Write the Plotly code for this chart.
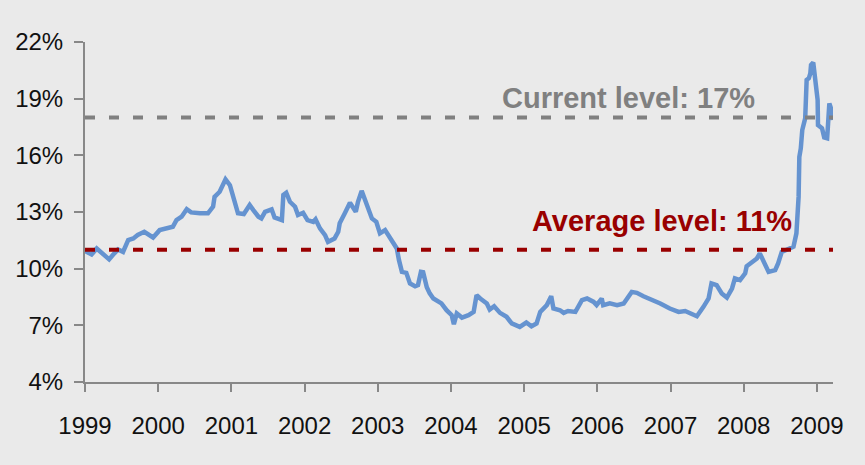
import plotly.graph_objects as go

# decimal years
years = [1999.00, 1999.09, 1999.16, 1999.25, 1999.33, 1999.38, 1999.45, 1999.52, 1999.59, 1999.66,
         1999.72, 1999.81, 1999.86, 1999.93, 2000.02, 2000.11, 2000.20, 2000.25, 2000.32, 2000.39,
         2000.45, 2000.57, 2000.68, 2000.75, 2000.77, 2000.84, 2000.92, 2000.98, 2001.03, 2001.09,
         2001.17, 2001.25, 2001.30, 2001.37, 2001.41, 2001.46, 2001.55, 2001.59, 2001.69, 2001.71,
         2001.75, 2001.80, 2001.87, 2001.91, 2001.98, 2002.04, 2002.12, 2002.15, 2002.21, 2002.28,
         2002.32, 2002.41, 2002.46, 2002.48, 2002.55, 2002.62, 2002.70, 2002.73, 2002.78, 2002.82,
         2002.87, 2002.92, 2002.98, 2003.03, 2003.10, 2003.14, 2003.19, 2003.26, 2003.29, 2003.33,
         2003.39, 2003.44, 2003.51, 2003.55, 2003.59, 2003.62, 2003.67, 2003.71, 2003.76, 2003.87,
         2003.94, 2004.01, 2004.04, 2004.08, 2004.15, 2004.24, 2004.31, 2004.35, 2004.40, 2004.49,
         2004.53, 2004.59, 2004.67, 2004.76, 2004.83, 2004.94, 2005.03, 2005.10, 2005.17, 2005.22,
         2005.31, 2005.37, 2005.40, 2005.49, 2005.54, 2005.60, 2005.70, 2005.79, 2005.86, 2005.95,
         2005.99, 2006.06, 2006.08, 2006.17, 2006.27, 2006.36, 2006.47, 2006.54, 2006.63, 2006.77,
         2006.86, 2006.99, 2007.11, 2007.20, 2007.27, 2007.36, 2007.45, 2007.52, 2007.56, 2007.63,
         2007.70, 2007.77, 2007.84, 2007.88, 2007.95, 2008.02, 2008.04, 2008.11, 2008.18, 2008.22,
         2008.27, 2008.34, 2008.43, 2008.47, 2008.52, 2008.63, 2008.68, 2008.72, 2008.75, 2008.76,
         2008.78, 2008.80, 2008.82, 2008.84, 2008.86, 2008.89, 2008.91, 2008.92, 2008.95, 2008.98,
         2009.01, 2009.015, 2009.07, 2009.10, 2009.14, 2009.15, 2009.17, 2009.20, 2009.22]

rates = [10.94, 10.75, 11.07, 10.72, 10.49, 10.72, 11.02, 10.89, 11.51, 11.60,
         11.78, 11.95, 11.83, 11.65, 12.04, 12.13, 12.22, 12.57, 12.75, 13.15,
         12.98, 12.93, 12.93, 13.28, 13.80, 14.07, 14.73, 14.42, 13.63, 12.93,
         12.89, 13.37, 13.10, 12.75, 12.66, 13.01, 13.14, 12.71, 12.57, 13.90,
         14.02, 13.54, 13.28, 12.84, 12.96, 12.57, 12.48, 12.61, 12.13, 11.78,
         11.42, 11.60, 11.95, 12.40, 12.93, 13.49, 13.01, 13.54, 14.12, 13.67,
         13.19, 12.66, 12.48, 11.87, 12.04, 11.78, 11.51, 11.07, 10.45, 9.83,
         9.78, 9.22, 9.07, 9.13, 9.83, 9.81, 9.02, 8.69, 8.42, 8.16,
         7.80, 7.54, 7.06, 7.63, 7.41, 7.54, 7.71, 8.60, 8.42, 8.16,
         7.84, 8.01, 7.66, 7.45, 7.10, 6.92, 7.15, 6.95, 7.10, 7.71,
         8.07, 8.54, 7.89, 7.80, 7.66, 7.76, 7.71, 8.33, 8.42, 8.24,
         8.07, 8.42, 8.07, 8.16, 8.07, 8.16, 8.77, 8.72, 8.54, 8.33,
         8.16, 7.89, 7.71, 7.76, 7.63, 7.48, 7.98, 8.42, 9.22, 9.13,
         8.69, 8.47, 8.95, 9.48, 9.39, 9.75, 10.13, 10.34, 10.54, 10.81,
         10.34, 9.83, 9.92, 10.28, 10.89, 11.07, 11.16, 11.87, 13.80, 15.92,
         16.37, 17.34, 17.78, 17.96, 19.99, 20.08, 20.34, 20.78, 20.91, 19.81,
         18.93, 17.60, 17.43, 16.95, 16.90, 17.51, 18.75, 18.40, 17.87]

x_ticks = [1999, 2000, 2001, 2002, 2003, 2004, 2005, 2006, 2007, 2008, 2009]
x_tick_labels = ["1999", "2000", "2001", "2002", "2003", "2004", "2005", "2006", "2007", "2008", "2009"]
y_ticks = [4, 7, 10, 13, 16, 19, 22]
y_tick_labels = ["4%", "7%", "10%", "13%", "16%", "19%", "22%"]

current_level = 18
average_level = 11
current_label = "Current level: 17%"
average_label = "Average level: 11%"

x_start, x_end = 1999.0, 2009.22

BG = "#EAEAEA"
FONT = "Liberation Sans, Arial, sans-serif"

fig = go.Figure()
fig.add_trace(go.Scatter(x=years, y=rates, mode="lines",
                         line=dict(color="#6593D0", width=4.5), showlegend=False,
                         hoverinfo="skip"))

fig.add_shape(type="line", xref="x", yref="y", x0=x_start, x1=x_end,
              y0=current_level, y1=current_level, layer="above",
              line=dict(color="#808080", width=4, dash="10px,14px"))
fig.add_shape(type="line", xref="x", yref="y", x0=x_start, x1=x_end,
              y0=average_level, y1=average_level, layer="above",
              line=dict(color="#990000", width=4, dash="10px,14px"))

fig.add_annotation(x=2006.43, y=19.06, text=current_label, showarrow=False,
                   xanchor="center", yanchor="middle",
                   font=dict(family=FONT, size=29, color="#808080", weight="bold"))
fig.add_annotation(x=2006.88, y=12.52, text=average_label, showarrow=False,
                   xanchor="center", yanchor="middle",
                   font=dict(family=FONT, size=29, color="#990000", weight="bold"))

fig.update_layout(
    width=865, height=465,
    margin=dict(l=85, r=32, t=42, b=83),
    paper_bgcolor=BG, plot_bgcolor=BG,
    font=dict(family=FONT, size=24, color="#111111"),
    xaxis=dict(range=[x_start, x_end], tickvals=x_ticks, ticktext=x_tick_labels,
               showgrid=False, zeroline=False, showline=True, linecolor="#888888", linewidth=2,
               ticks="outside", ticklen=8, tickwidth=2, tickcolor="#888888",
               ticklabelstandoff=13, tickfont=dict(size=24)),
    yaxis=dict(range=[4, 22], tickvals=y_ticks, ticktext=y_tick_labels,
               showgrid=False, zeroline=False, showline=True, linecolor="#888888", linewidth=2,
               ticks="outside", ticklen=9, tickwidth=2, tickcolor="#888888",
               ticklabelstandoff=6, tickfont=dict(size=24)),
)

fig.write_html("out.html", config={"displayModeBar": False},
               post_script="document.body.style.margin='0';document.body.style.background='#EAEAEA';")
